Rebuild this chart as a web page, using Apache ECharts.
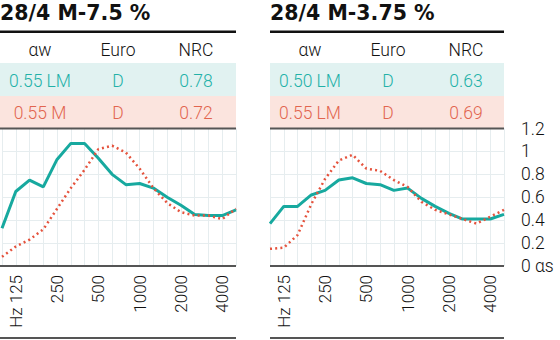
<!DOCTYPE html>
<html>
<head>
<meta charset="utf-8">
<script src="https://cdn.jsdelivr.net/npm/echarts@6/dist/echarts.min.js"></script>
<style>
html,body{margin:0;padding:0;background:#fff;}
#c{width:560px;height:340px;}
</style>
</head>
<body>
<div id="c"></div>
<script>
// ---- data ----
const freqs = ['100','125','160','200','250','315','400','500','630','800','1000','1250','1600','2000','2500','3150','4000','5000'];
const tickFreqs = ['125','250','500','1000','2000','4000'];
const yTickLabels = ['0 αs','0.2','0.4','0.6','0.8','1','1.2'];
const titles = ['28/4 M-7.5 %', '28/4 M-3.75 %'];
const headers = ['αw', 'Euro', 'NRC'];
const rowsA = [['0.55 LM', 'D', '0.78'], ['0.55 M', 'D', '0.72']];
const rowsB = [['0.50 LM', 'D', '0.63'], ['0.55 LM', 'D', '0.69']];
const tealA = [0.33,0.65,0.75,0.69,0.93,1.07,1.07,0.94,0.80,0.71,0.72,0.68,0.60,0.53,0.45,0.44,0.44,0.49];
const redA  = [0.08,0.17,0.23,0.32,0.50,0.68,0.84,1.02,1.05,0.99,0.85,0.68,0.55,0.47,0.44,0.44,0.41,0.50];
const tealB = [0.37,0.52,0.52,0.62,0.66,0.75,0.77,0.72,0.71,0.66,0.68,0.59,0.52,0.46,0.41,0.41,0.41,0.45];
const redB  = [0.15,0.16,0.27,0.54,0.76,0.92,0.97,0.85,0.83,0.75,0.69,0.56,0.49,0.45,0.41,0.37,0.43,0.49];

// ---- styling ----
const TEAL = '#17a99f', RED = '#e5533d';
const TEAL_TXT = '#22b1a8', RED_TXT = '#e2654f';
const BAND_T = '#e1f2f1', BAND_R = '#fbe4de';
const GRIDC = '#e6edef';
const FONT = 'Roboto, "Liberation Sans", sans-serif';
const panels = [
  {x: 0, w: 236, title: titles[0], rows: rowsA, teal: tealA, red: redA},
  {x: 270, w: 234, title: titles[1], rows: rowsB, teal: tealB, red: redB}
];
const colX = [40, 118, 196];

const graphic = [];
panels.forEach(p => {
  graphic.push({type: 'text', x: p.x, y: 12.5, style: {text: p.title, font: 'bold 20.5px "DejaVu Sans", sans-serif', fill: '#111', verticalAlign: 'middle', align: 'left'}});
  graphic.push({type: 'rect', shape: {x: p.x, y: 30.5, width: p.w, height: 2.5}, style: {fill: '#111'}});
  headers.forEach((h, i) => graphic.push({type: 'text', x: p.x + colX[i], y: 50, style: {text: h, font: '300 17.5px ' + FONT, fill: '#111', align: 'center', verticalAlign: 'middle'}}));
  graphic.push({type: 'rect', shape: {x: p.x, y: 63, width: p.w, height: 33}, style: {fill: BAND_T}});
  graphic.push({type: 'rect', shape: {x: p.x, y: 96, width: p.w, height: 32.5}, style: {fill: BAND_R}});
  p.rows[0].forEach((t, i) => graphic.push({type: 'text', x: p.x + colX[i], y: 80.5, style: {text: t, font: '300 17.5px ' + FONT, fill: TEAL_TXT, align: 'center', verticalAlign: 'middle'}}));
  p.rows[1].forEach((t, i) => graphic.push({type: 'text', x: p.x + colX[i], y: 113, style: {text: t, font: '300 17.5px ' + FONT, fill: RED_TXT, align: 'center', verticalAlign: 'middle'}}));
  graphic.push({type: 'rect', z: 10, shape: {x: p.x, y: 127.5, width: p.w, height: 2}, style: {fill: '#555'}});
  graphic.push({type: 'rect', z: 10, shape: {x: p.x, y: 265, width: p.w, height: 2}, style: {fill: '#555'}});
  graphic.push({type: 'rect', shape: {x: p.x, y: 337, width: p.w, height: 2}, style: {fill: '#555'}});
});

const grids = [
  {left: 2, top: 128.5, width: 234, height: 137.5},
  {left: 270, top: 128.5, width: 234, height: 137.5}
];
const xAxes = grids.map((g, i) => ({
  type: 'category', gridIndex: i, data: freqs, boundaryGap: false,
  axisLine: {show: false},
  axisTick: {show: false},
  splitLine: {show: true, interval: 0, lineStyle: {color: GRIDC, width: 1}},
  axisLabel: {
    interval: (idx, val) => tickFreqs.indexOf(val) >= 0,
    rotate: 90, margin: 9, fontSize: 17, fontFamily: FONT, fontWeight: 300, color: '#111',
    formatter: v => v === tickFreqs[0] ? 'Hz ' + v : v
  }
}));
const yAxes = grids.map((g, i) => ({
  type: 'value', gridIndex: i, min: 0, max: 1.2, interval: 0.2,
  position: 'right',
  axisLine: {show: false}, axisTick: {show: false},
  splitLine: {show: true, lineStyle: {color: GRIDC, width: 1}},
  axisLabel: {
    show: i === 1, margin: 17, fontSize: 17.5, fontFamily: FONT, fontWeight: 300, color: '#111',
    formatter: v => yTickLabels[Math.round(v / 0.2)]
  }
}));
const series = [];
panels.forEach((p, i) => {
  series.push({type: 'line', xAxisIndex: i, yAxisIndex: i, data: p.teal, symbol: 'none', z: 3,
    lineStyle: {color: TEAL, width: 3}, itemStyle: {color: TEAL}});
  series.push({type: 'line', xAxisIndex: i, yAxisIndex: i, data: p.red, symbol: 'none', z: 4,
    lineStyle: {color: RED, width: 2.5, type: [2, 3.2]}, itemStyle: {color: RED}});
});

const chart = echarts.init(document.getElementById('c'), null, {renderer: 'svg'});
chart.setOption({
  animation: false,
  backgroundColor: '#fff',
  grid: grids,
  xAxis: xAxes,
  yAxis: yAxes,
  series: series,
  graphic: graphic
});
</script>
</body>
</html>
